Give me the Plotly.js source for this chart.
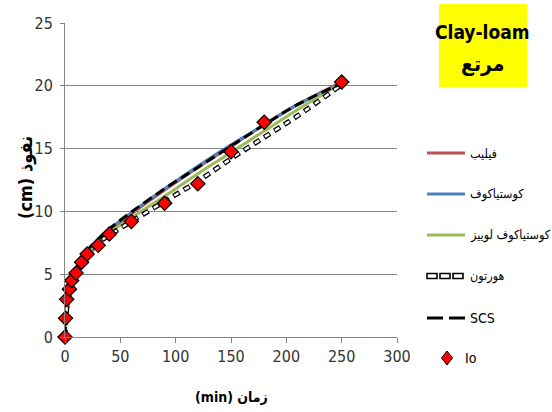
<!DOCTYPE html>
<html>
<head>
<meta charset="utf-8">
<script src="https://cdn.plot.ly/plotly-3.0.1.min.js"></script>
<style>
  html, body { margin: 0; padding: 0; background: #ffffff; }
  #chart { width: 552px; height: 412px; }
</style>
</head>
<body>
<div id="chart"></div>
<script>
// Observed cumulative infiltration (Io) against time
const timeObs = [0, 0.5, 1.5, 4, 6, 10, 15, 20, 30, 40, 60, 90, 120, 150, 180, 250];
const infObs  = [0, 1.5, 3.0, 3.8, 4.5, 5.1, 5.95, 6.6, 7.3, 8.2, 9.2, 10.65, 12.2, 14.75, 17.1, 20.3];

// Fitted model curves, read at these times
const timeModel  = [0, 1, 2, 5, 10, 20, 30, 40, 60, 90, 120, 150, 180, 210, 250];
const philip     = [0, 1.3, 2.0, 3.4, 4.7, 6.3, 7.4, 8.3, 9.8, 11.7, 13.5, 15.2, 16.9, 18.5, 20.3];
const kostiakov  = [0, 1.9, 2.8, 4.3, 5.4, 6.8, 7.8, 8.6, 9.9, 11.8, 13.6, 15.3, 16.9, 18.5, 20.2];
const kostLewis  = [0, 1.8, 2.7, 4.2, 5.3, 6.7, 7.6, 8.3, 9.5, 11.2, 13.0, 14.7, 16.4, 18.1, 20.2];
const horton     = [0, 1.7, 2.6, 4.1, 5.2, 6.6, 7.5, 8.1, 9.2, 10.8, 12.4, 14.2, 15.9, 17.6, 20.1];
const scs        = [0, 2.0, 2.9, 4.4, 5.5, 6.9, 7.8, 8.6, 9.95, 11.8, 13.5, 15.2, 16.9, 18.5, 20.2];

// Series names and tick values
const seriesNames = ['فيليب', 'كوستياكوف', 'كوستياكوف لوييز', 'هورتون', 'SCS', 'Io'];
const xTicks = [0, 50, 100, 150, 200, 250, 300];
const yTicks = [0, 5, 10, 15, 20, 25];

const W = 552, H = 412;
const M = { l: 65, r: 155, t: 23, b: 75 };
const PW = W - M.l - M.r, PH = H - M.t - M.b;
const px = v => (v - M.l) / PW;          // page x -> paper x
const py = v => (H - M.b - v) / PH;      // page y -> paper y

const RED = '#C0504D', BLUE = '#4F81BD', GREEN = '#9BBB59';
const NARROW = '"Liberation Sans Narrow", "Arial Narrow", "DejaVu Sans Condensed", sans-serif';
const COND = '"DejaVu Sans Condensed", "DejaVu Sans", sans-serif';

const HORTON_OUT = '7px,5px';
const HORTON_IN = '0px,1px,5px,6px';

function curve(y, color, width, dash) {
  return {
    x: timeModel, y: y, type: 'scatter', mode: 'lines',
    line: { color: color, width: width, dash: dash || 'solid', shape: 'spline', smoothing: 1 },
    showlegend: false, hoverinfo: 'skip'
  };
}

const traces = [
  curve(philip, RED, 3),
  curve(kostiakov, BLUE, 3),
  curve(kostLewis, GREEN, 3),
  curve(horton, '#000000', 5, HORTON_OUT),
  curve(horton, '#ffffff', 2.4, HORTON_IN),
  curve(scs, '#000000', 3, '10px,5px'),
  {
    x: timeObs, y: infObs, type: 'scatter', mode: 'markers',
    marker: { symbol: 'diamond', size: 11, color: '#FF0000', line: { color: '#000000', width: 1.2 } },
    cliponaxis: false, showlegend: false, hoverinfo: 'skip'
  }
];

// Hand-built legend on the right
const rows = [153, 194, 235, 276, 318, 358];
const lx0 = 427, lx1 = 465, tx = 468;
const shapes = [];
const annotations = [];

// Title box
shapes.push({ type: 'rect', xref: 'paper', yref: 'paper',
  x0: px(439), x1: px(527), y0: py(87), y1: py(4),
  fillcolor: '#FFFF00', line: { width: 0 }, layer: 'below' });
annotations.push({ xref: 'paper', yref: 'paper', x: px(483), y: py(32), text: 'Clay-loam',
  showarrow: false, xanchor: 'center', yanchor: 'middle',
  font: { family: NARROW, size: 19, color: '#000000', weight: 'bold' } });
annotations.push({ xref: 'paper', yref: 'paper', x: px(483), y: py(64), text: 'مرتع',
  showarrow: false, xanchor: 'center', yanchor: 'middle',
  font: { family: COND, size: 21, color: '#000000', weight: 'bold' } });

function legLine(row, color, width) {
  shapes.push({ type: 'line', xref: 'paper', yref: 'paper',
    x0: px(lx0), x1: px(lx1), y0: py(row), y1: py(row),
    line: { color: color, width: width } });
}
legLine(rows[0], RED, 3);
legLine(rows[1], BLUE, 3);
legLine(rows[2], GREEN, 3);
// Horton sample: three hollow dashes
for (let k = 0; k < 3; k++) {
  const a = lx0 + k * 13;
  shapes.push({ type: 'rect', xref: 'paper', yref: 'paper',
    x0: px(a), x1: px(a + 10), y0: py(rows[3] + 2.5), y1: py(rows[3] - 2.5),
    fillcolor: '#ffffff', line: { color: '#000000', width: 1.6 } });
}
// SCS sample: two long dashes
shapes.push({ type: 'line', xref: 'paper', yref: 'paper', x0: px(lx0), x1: px(lx0 + 16),
  y0: py(rows[4]), y1: py(rows[4]), line: { color: '#000000', width: 3 } });
shapes.push({ type: 'line', xref: 'paper', yref: 'paper', x0: px(lx0 + 22), x1: px(lx1),
  y0: py(rows[4]), y1: py(rows[4]), line: { color: '#000000', width: 3 } });
// Io sample: red diamond
const dcx = px(447), dcy = py(rows[5]);
const dhx = 5.5 / PW, dhy = 7 / PH;
shapes.push({ type: 'path', xref: 'paper', yref: 'paper',
  path: `M ${dcx} ${dcy + dhy} L ${dcx + dhx} ${dcy} L ${dcx} ${dcy - dhy} L ${dcx - dhx} ${dcy} Z`,
  fillcolor: '#FF0000', line: { color: '#000000', width: 1 } });

seriesNames.forEach((name, i) => {
  annotations.push({ xref: 'paper', yref: 'paper', x: px(i === 5 ? 463 : tx), y: py(rows[i]),
    text: name, showarrow: false, xanchor: 'left', yanchor: 'middle',
    font: { family: i >= 4 ? NARROW : COND, size: i >= 4 ? 14 : 12.5, color: '#000000' } });
});

// Axis titles (Latin unit written first so it sits on the left / bottom)
annotations.push({ xref: 'paper', yref: 'paper', x: px(231), y: py(397), text: '(min) زمان',
  showarrow: false, xanchor: 'center', yanchor: 'middle',
  font: { family: COND, size: 14, color: '#000000', weight: 'bold' } });
annotations.push({ xref: 'paper', yref: 'paper', x: px(26), y: py(178), text: '(cm) نفوذ',
  textangle: -90, showarrow: false, xanchor: 'center', yanchor: 'middle',
  font: { family: COND, size: 18, color: '#000000', weight: 'bold' } });

const layout = {
  width: W, height: H,
  margin: M,
  paper_bgcolor: '#ffffff', plot_bgcolor: '#ffffff',
  showlegend: false,
  xaxis: {
    range: [0, 300], tickvals: xTicks, ticktext: xTicks.map(String),
    showgrid: false, zeroline: false,
    showline: true, linecolor: '#868686', linewidth: 1,
    ticks: 'outside', ticklen: 5, tickcolor: '#868686',
    tickfont: { family: NARROW, size: 16, color: '#333333' }
  },
  yaxis: {
    range: [0, 25], tickvals: yTicks, ticktext: yTicks.map(String),
    showgrid: true, gridcolor: '#868686', gridwidth: 1, zeroline: false,
    showline: true, linecolor: '#868686', linewidth: 1,
    ticks: 'outside', ticklen: 4, tickcolor: '#868686', ticklabelstandoff: 4,
    tickfont: { family: NARROW, size: 16, color: '#333333' }
  },
  shapes: shapes,
  annotations: annotations
};

Plotly.newPlot('chart', traces, layout, { displayModeBar: false, staticPlot: true });
</script>
</body>
</html>
